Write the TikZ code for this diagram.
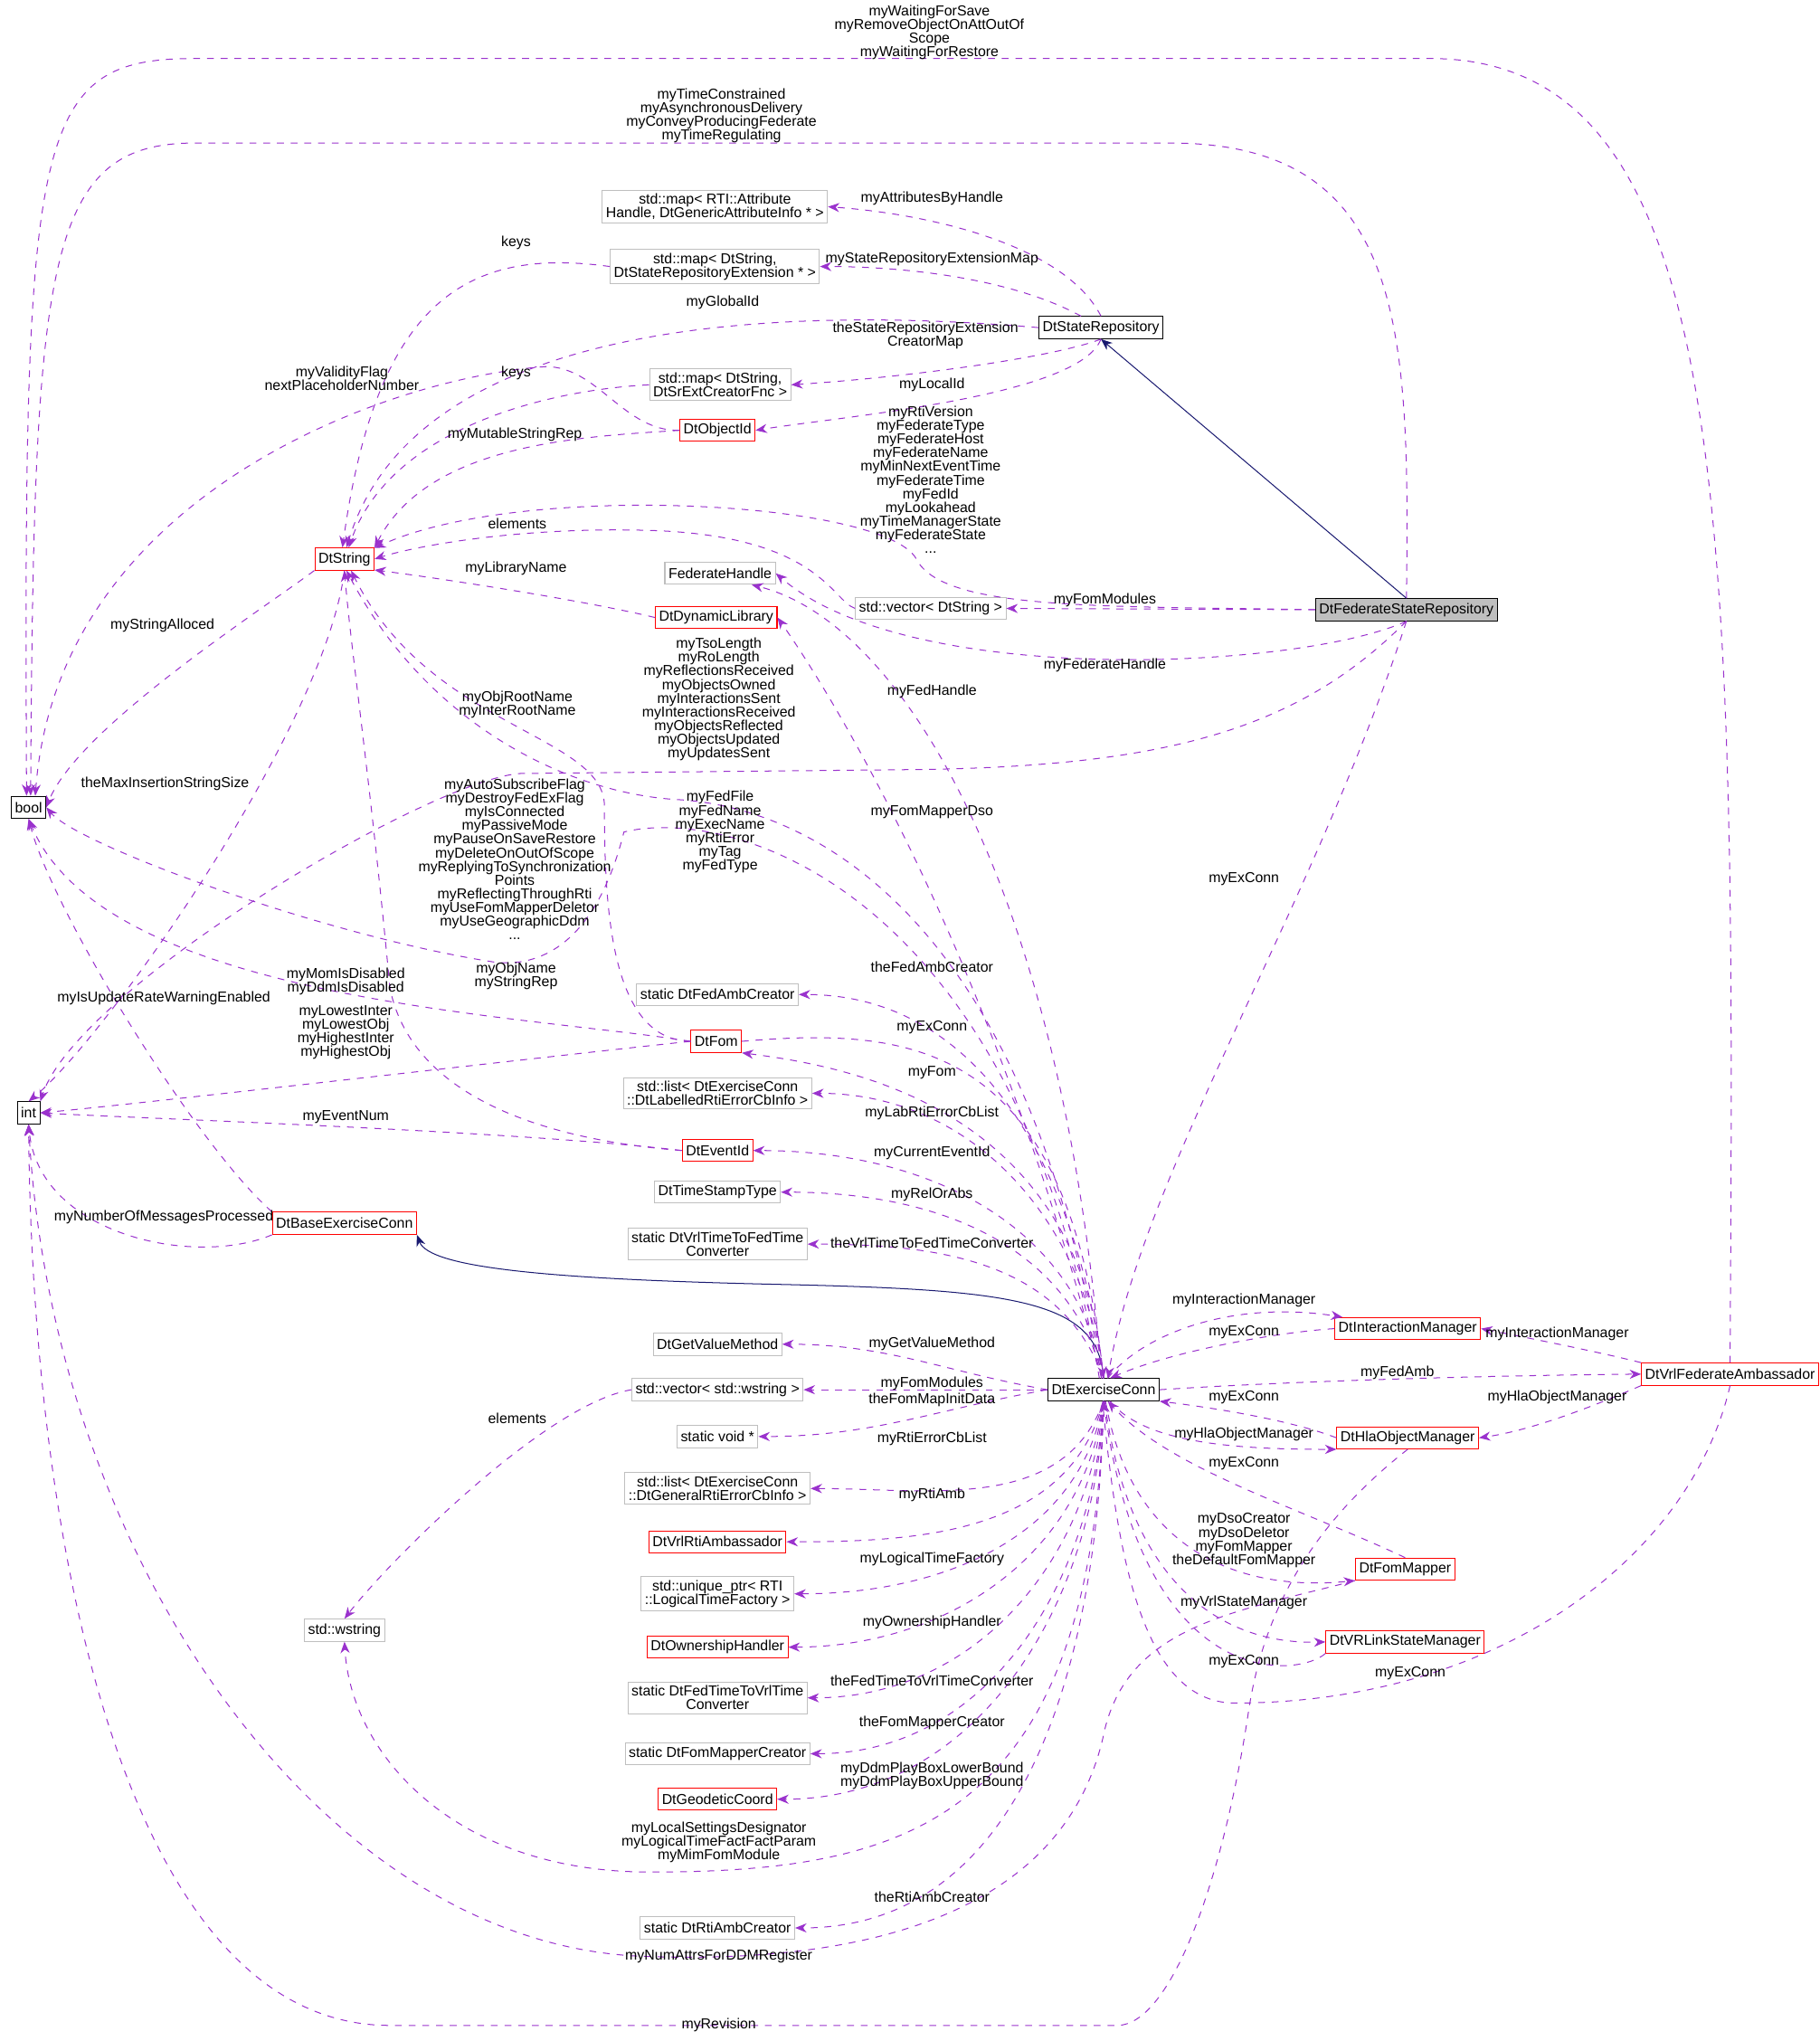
\documentclass[tikz,border=0pt]{standalone}
\usepackage{fontspec}
\setmainfont{Liberation Sans}
\usetikzlibrary{arrows.meta}
\definecolor{depcol}{HTML}{9A32CD}
\definecolor{inhcol}{HTML}{191970}
\definecolor{boxgray}{HTML}{BFBFBF}
\tikzset{
  cls/.style={draw=black, inner sep=1.6pt, minimum height=0.34cm, font=\fontsize{6.3}{6}\selectfont, align=center},
  redcls/.style={cls, draw=red},
  graycls/.style={cls, draw=boxgray},
  lbl/.style={inner sep=0pt, font=\fontsize{6.3}{6}\selectfont, align=center},
  dep/.style={depcol, dashed, -{Stealth[length=5pt,width=4pt]}},
  inh/.style={inhcol, -{Stealth[length=5pt,width=4pt]}}
}
\begin{document}
\begin{tikzpicture}[x=0.02cm, y=-0.02cm]
\useasboundingbox (0,0) rectangle (1400,1570);

% classes
\node[cls] (bool) at (22,621) {bool};
\node[cls] (int) at (22,856) {int};
\node[redcls] (str) at (265,430) {DtString};
\node[graycls] (mapattr) at (550,159) {std::map\textless{} RTI::Attribute\\Handle, DtGenericAttributeInfo * \textgreater{}};
\node[graycls] (mapext) at (550,205) {std::map\textless{} DtString,\\DtStateRepositoryExtension * \textgreater{}};
\node[cls] (sr) at (847,252) {DtStateRepository};
\node[graycls] (mapfnc) at (554,296) {std::map\textless{} DtString,\\DtSrExtCreatorFnc \textgreater{}};
\node[redcls] (oid) at (552,331) {DtObjectId};
\node[graycls] (fh) at (554,441) {FederateHandle};
\node[graycls] (vecstr) at (716,468) {std::vector\textless{} DtString \textgreater{}};
\node[cls, fill=boxgray] (fsr) at (1082,469) {DtFederateStateRepository};
\node[redcls] (dl) at (551,475) {DtDynamicLibrary};
\node[graycls] (famb) at (552,765) {static DtFedAmbCreator};
\node[redcls] (fom) at (551,801) {DtFom};
\node[graycls] (lablist) at (552,841) {std::list\textless{} DtExerciseConn\\::DtLabelledRtiErrorCbInfo \textgreater{}};
\node[redcls] (eid) at (552,885) {DtEventId};
\node[graycls] (tst) at (552,917) {DtTimeStampType};
\node[graycls] (v2f) at (552,957) {static DtVrlTimeToFedTime\\Converter};
\node[redcls] (bec) at (265,941) {DtBaseExerciseConn};
\node[graycls] (gvm) at (552,1034) {DtGetValueMethod};
\node[graycls] (vecws) at (552,1069) {std::vector\textless{} std::wstring \textgreater{}};
\node[cls] (ec) at (849,1069) {DtExerciseConn};
\node[graycls] (svoid) at (552,1105) {static void *};
\node[graycls] (genlist) at (552,1145) {std::list\textless{} DtExerciseConn\\::DtGeneralRtiErrorCbInfo \textgreater{}};
\node[redcls] (rtiamb) at (552,1186) {DtVrlRtiAmbassador};
\node[graycls] (ltf) at (552,1226) {std::unique\_ptr\textless{} RTI\\::LogicalTimeFactory \textgreater{}};
\node[redcls] (own) at (552,1267) {DtOwnershipHandler};
\node[graycls] (f2v) at (552,1306) {static DtFedTimeToVrlTime\\Converter};
\node[graycls] (fmc) at (552,1349) {static DtFomMapperCreator};
\node[redcls] (geo) at (552,1384) {DtGeodeticCoord};
\node[graycls] (rac) at (552,1483) {static DtRtiAmbCreator};
\node[graycls] (ws) at (265,1254) {std::wstring};
\node[redcls] (im) at (1083,1022) {DtInteractionManager};
\node[redcls] (vfa) at (1331,1057) {DtVrlFederateAmbassador};
\node[redcls] (hom) at (1083,1106) {DtHlaObjectManager};
\node[redcls] (fm) at (1081,1207) {DtFomMapper};
\node[redcls] (vls) at (1081,1263) {DtVRLinkStateManager};

% inheritance
\draw[inh] (fsr.north) -- (sr.south);
\draw[inh] (ec.north) .. controls (845,1000) and (780,992) .. (600,988) .. controls (420,984) and (330,975) .. (bec.south east);

% top part
\draw[dep] (vfa.north) .. controls (1335,400) and (1335,45) .. (1100,45) -- (150,45) .. controls (25,45) and (18,100) .. (bool.100);
\draw[dep] (fsr.north) .. controls (1085,250) and (1080,110) .. (900,110) -- (150,110) .. controls (35,110) and (26,200) .. (bool.80);
\draw[dep] (sr.north) .. controls (820,190) and (720,165) .. (mapattr.east);
\draw[dep] (sr.150) .. controls (780,215) and (700,205) .. (mapext.east);
\draw[dep] (mapext.west) .. controls (360,190) and (290,230) .. (str.100);
\draw[dep] (sr.west) .. controls (600,235) and (320,245) .. (str.80);
\draw[dep] (sr.south) .. controls (810,275) and (700,290) .. (mapfnc.east);
\draw[dep] (sr.south) .. controls (830,305) and (650,320) .. (oid.east);
\draw[dep] (mapfnc.west) .. controls (420,300) and (300,330) .. (str.70);
\draw[dep] (oid.west) .. controls (480,332) and (460,282) .. (420,282) .. controls (300,290) and (45,380) .. (bool.60);
\draw[dep] (oid.west) .. controls (450,336) and (330,340) .. (str.north east);
\draw[dep] (fsr.west) .. controls (850,466) and (725,470) .. (705,430) .. controls (680,385) and (400,370) .. (str.20);
\draw[dep] (vecstr.west) .. controls (640,462) and (630,412) .. (500,408) .. controls (400,405) and (320,420) .. (str.east);
\draw[dep] (fsr.west) -- (vecstr.east);
\draw[dep] (dl.west) .. controls (450,462) and (340,445) .. (str.-20);
\draw[dep] (fsr.south) .. controls (1000,515) and (700,530) .. (fh.east);
\draw[dep] (fsr.south) .. controls (1000,560) and (900,590) .. (700,592) -- (400,595) .. controls (330,600) and (60,760) .. (int.north east);
\draw[dep] (fsr.south) .. controls (1010,700) and (880,900) .. (ec.70);
\draw[dep] (str.south west) .. controls (200,470) and (60,560) .. (bool.east);
\draw[dep] (str.south) .. controls (250,560) and (80,800) .. (int.north);

% DtExerciseConn upwards
\draw[dep] (ec.100) .. controls (820,700) and (700,480) .. (fh.-20);
\draw[dep] (ec.100) .. controls (760,720) and (630,520) .. (dl.east);
\draw[dep] (fom.west) .. controls (470,800) and (465,700) .. (465,620) .. controls (465,565) and (330,560) .. (str.-60);
\draw[dep] (ec.100) .. controls (790,700) and (620,620) .. (520,615) .. controls (440,610) and (330,560) .. (str.-80);
\draw[dep] (ec.110) .. controls (780,680) and (560,620) .. (480,640) .. controls (460,720) and (420,745) .. (380,740) .. controls (250,720) and (60,650) .. (bool.east);
\draw[dep] (fom.west) .. controls (400,780) and (80,770) .. (bool.south);
\draw[dep] (eid.west) .. controls (460,880) and (320,860) .. (300,760) .. controls (285,600) and (270,500) .. (str.south);
\draw[dep] (fom.west) .. controls (400,815) and (100,850) .. (int.east);
\draw[dep] (eid.west) .. controls (400,870) and (100,860) .. (int.east);
\draw[dep] (bec.north west) .. controls (150,880) and (40,700) .. (bool.south);
\draw[dep] (bec.south west) .. controls (150,975) and (30,950) .. (int.south);
\draw[dep] (ec.north) to[out=97, in=0, looseness=1] (famb.east);
\draw[dep] (fom.east) .. controls (700,790) and (820,800) .. (ec.north);
\draw[dep] (ec.north) .. controls (830,850) and (650,820) .. (fom.south east);
\draw[dep] (ec.north) to[out=97, in=0] (lablist.east);
\draw[dep] (ec.north) to[out=100, in=0] (eid.east);
\draw[dep] (ec.north) to[out=105, in=0] (tst.east);
\draw[dep] (ec.north) to[out=110, in=0] (v2f.east);
\draw[dep] (ec.west) to[out=170, in=0] (gvm.east);
\draw[dep] (ec.west) -- (vecws.east);
\draw[dep] (ec.west) to[out=190, in=0] (svoid.east);

% DtExerciseConn downwards
\draw[dep] (ec.south) to[out=-110, in=0] (genlist.east);
\draw[dep] (ec.south) to[out=-105, in=0] (rtiamb.east);
\draw[dep] (ec.south) to[out=-100, in=0] (ltf.east);
\draw[dep] (ec.south) to[out=-97, in=0] (own.east);
\draw[dep] (ec.south) to[out=-95, in=0] (f2v.east);
\draw[dep] (ec.south) to[out=-93, in=0] (fmc.east);
\draw[dep] (ec.south) to[out=-92, in=0] (geo.east);
\draw[dep] (ec.south) to[out=-91, in=0] (rac.east);
\draw[dep] (vecws.west) .. controls (420,1080) and (300,1200) .. (ws.north);
\draw[dep] (ec.south) .. controls (840,1400) and (700,1440) .. (500,1440) .. controls (350,1440) and (270,1350) .. (ws.south);
\draw[dep] (fm.south west) .. controls (950,1240) and (870,1250) .. (850,1330) .. controls (820,1480) and (650,1510) .. (500,1505) .. controls (250,1500) and (40,1200) .. (int.south);
\draw[dep] (hom.south) .. controls (1000,1180) and (970,1250) .. (960,1320) .. controls (940,1450) and (900,1557) .. (860,1558) -- (300,1558) .. controls (100,1558) and (25,1200) .. (int.south);

% right side
\draw[dep] (ec.70) .. controls (880,1025) and (950,1000) .. (im.170);
\draw[dep] (im.west) .. controls (980,1025) and (900,1040) .. (ec.60);
\draw[dep] (ec.east) .. controls (1000,1062) and (1150,1058) .. (vfa.west);
\draw[dep] (vfa.north west) .. controls (1230,1040) and (1180,1030) .. (im.east);
\draw[dep] (vfa.south west) .. controls (1230,1080) and (1180,1100) .. (hom.east);
\draw[dep] (hom.west) .. controls (1000,1095) and (950,1085) .. (ec.south east);
\draw[dep] (ec.-60) .. controls (880,1110) and (950,1115) .. (hom.south west);
\draw[dep] (fm.north) .. controls (1000,1160) and (900,1130) .. (ec.-70);
\draw[dep] (ec.-80) .. controls (870,1190) and (950,1225) .. (fm.south west);
\draw[dep] (ec.-85) .. controls (870,1230) and (950,1265) .. (vls.west);
\draw[dep] (vls.south west) .. controls (1000,1290) and (880,1305) .. (ec.-90);
\draw[dep] (vfa.south) .. controls (1300,1200) and (1150,1310) .. (950,1310) .. controls (880,1310) and (860,1200) .. (ec.-95);

% labels
\node[lbl] (l1) at (715,25) {myWaitingForSave\\myRemoveObjectOnAttOutOf\\Scope\\myWaitingForRestore};
\node[lbl] (l2) at (555,89) {myTimeConstrained\\myAsynchronousDelivery\\myConveyProducingFederate\\myTimeRegulating};
\node[lbl] (l3) at (717,153) {myAttributesByHandle};
\node[lbl] (l4) at (717,199) {myStateRepositoryExtensionMap};
\node[lbl] (l5) at (397,187) {keys};
\node[lbl] (l6) at (556,233) {myGlobalId};
\node[lbl] (l7) at (712,258) {theStateRepositoryExtension\\CreatorMap};
\node[lbl] (l8) at (717,296) {myLocalId};
\node[lbl] (l9) at (397,287) {keys};
\node[lbl] (l10) at (263,291) {myValidityFlag\\nextPlaceholderNumber};
\node[lbl] (l11) at (396,334) {myMutableStringRep};
\node[lbl] (l12) at (716,369) {myRtiVersion\\myFederateType\\myFederateHost\\myFederateName\\myMinNextEventTime\\myFederateTime\\myFedId\\myLookahead\\myTimeManagerState\\myFederateState\\...};
\node[lbl] (l13) at (398,403) {elements};
\node[lbl] (l14) at (850,462) {myFomModules};
\node[lbl] (l15) at (397,437) {myLibraryName};
\node[lbl] (l16) at (850,512) {myFederateHandle};
\node[lbl] (l17) at (553,538) {myTsoLength\\myRoLength\\myReflectionsReceived\\myObjectsOwned\\myInteractionsSent\\myInteractionsReceived\\myObjectsReflected\\myObjectsUpdated\\myUpdatesSent};
\node[lbl] (l18) at (957,676) {myExConn};
\node[lbl] (l19) at (125,481) {myStringAlloced};
\node[lbl] (l20) at (127,603) {theMaxInsertionStringSize};
\node[lbl] (l21) at (717,532) {myFedHandle};
\node[lbl] (l22) at (717,625) {myFomMapperDso};
\node[lbl] (l23) at (398,542) {myObjRootName\\myInterRootName};
\node[lbl] (l24) at (554,640) {myFedFile\\myFedName\\myExecName\\myRtiError\\myTag\\myFedType};
\node[lbl] (l25) at (396,661) {myAutoSubscribeFlag\\myDestroyFedExFlag\\myIsConnected\\myPassiveMode\\myPauseOnSaveRestore\\myDeleteOnOutOfScope\\myReplyingToSynchronization\\Points\\myReflectingThroughRti\\myUseFomMapperDeletor\\myUseGeographicDdm\\...};
\node[lbl] (l26) at (266,755) {myMomIsDisabled\\myDdmIsDisabled};
\node[lbl] (l27) at (397,751) {myObjName\\myStringRep};
\node[lbl] (l28) at (266,794) {myLowestInter\\myLowestObj\\myHighestInter\\myHighestObj};
\node[lbl] (l29) at (266,859) {myEventNum};
\node[lbl] (l30) at (126,768) {myIsUpdateRateWarningEnabled};
\node[lbl] (l31) at (126,936) {myNumberOfMessagesProcessed};
\node[lbl] (l32) at (717,744) {theFedAmbCreator};
\node[lbl] (l33) at (717,790) {myExConn};
\node[lbl] (l34) at (717,825) {myFom};
\node[lbl] (l35) at (717,856) {myLabRtiErrorCbList};
\node[lbl] (l36) at (717,887) {myCurrentEventId};
\node[lbl] (l37) at (717,919) {myRelOrAbs};
\node[lbl] (l38) at (717,956) {theVrlTimeToFedTimeConverter};
\node[lbl] (l39) at (717,1034) {myGetValueMethod};
\node[lbl] (l40) at (717,1064) {myFomModules};
\node[lbl] (l41) at (717,1077) {theFomMapInitData};
\node[lbl] (l42) at (717,1107) {myRtiErrorCbList};
\node[lbl] (l43) at (717,1150) {myRtiAmb};
\node[lbl] (l44) at (717,1199) {myLogicalTimeFactory};
\node[lbl] (l45) at (717,1248) {myOwnershipHandler};
\node[lbl] (l46) at (717,1293) {theFedTimeToVrlTimeConverter};
\node[lbl] (l47) at (717,1325) {theFomMapperCreator};
\node[lbl] (l48) at (717,1366) {myDdmPlayBoxLowerBound\\myDdmPlayBoxUpperBound};
\node[lbl] (l49) at (717,1459) {theRtiAmbCreator};
\node[lbl] (l50) at (398,1091) {elements};
\node[lbl] (l51) at (553,1417) {myLocalSettingsDesignator\\myLogicalTimeFactFactParam\\myMimFomModule};
\node[lbl] (l52) at (553,1505) {myNumAttrsForDDMRegister};
\node[lbl] (l53) at (553,1558) {myRevision};
\node[lbl] (l54) at (957,1000) {myInteractionManager};
\node[lbl] (l55) at (957,1025) {myExConn};
\node[lbl] (l56) at (1075,1056) {myFedAmb};
\node[lbl] (l57) at (1198,1026) {myInteractionManager};
\node[lbl] (l58) at (1198,1075) {myHlaObjectManager};
\node[lbl] (l59) at (957,1075) {myExConn};
\node[lbl] (l60) at (957,1103) {myHlaObjectManager};
\node[lbl] (l61) at (957,1126) {myExConn};
\node[lbl] (l62) at (957,1185) {myDsoCreator\\myDsoDeletor\\myFomMapper\\theDefaultFomMapper};
\node[lbl] (l63) at (957,1233) {myVrlStateManager};
\node[lbl] (l64) at (957,1278) {myExConn};
\node[lbl] (l65) at (1085,1287) {myExConn};
\end{tikzpicture}
\end{document}
